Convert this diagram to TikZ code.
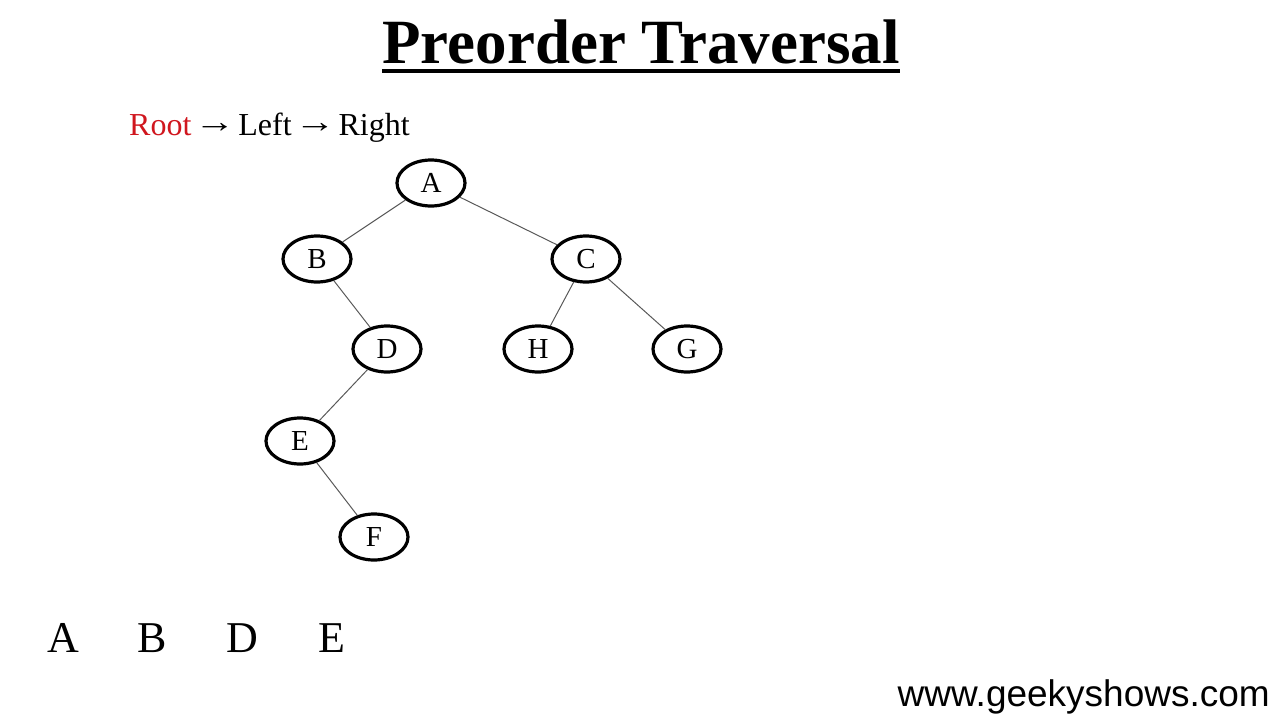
\documentclass[tikz,border=0pt]{standalone}
\usepackage{fontspec}
\setmainfont{Liberation Serif}
\newfontfamily\sitefont{Liberation Sans}
\usetikzlibrary{shapes.geometric}
\usepackage{xcolor}
\definecolor{rootred}{HTML}{D0161E}
\newcommand{\longarr}{\hspace{3pt}\raisebox{2.5pt}{\scalebox{1.28}[1]{→}}\hspace{3pt}}
\tikzset{
  treenode/.style={draw=black, line width=3.2pt, ellipse, minimum width=68pt, minimum height=46pt, inner sep=0pt, font=\fontsize{29}{29}\selectfont},
  treeedge/.style={draw=black!65, line width=1pt},
  seqletter/.style={anchor=base, font=\fontsize{44}{44}\selectfont}
}

\begin{document}
\begin{tikzpicture}[x=1pt, y=-1pt]
  \useasboundingbox (0,0) rectangle (1280,720);
  % title
  \node[anchor=base, inner sep=0pt, font=\fontsize{63}{63}\bfseries\selectfont] (title) at (641,63) {Preorder Traversal};
  \draw[line width=4pt] ([yshift=-7pt]title.south west) -- ([yshift=-7pt]title.south east);
  \node[anchor=base west, inner sep=0pt, font=\fontsize{32}{32}\selectfont] (order) at (129,135) {\textcolor{rootred}{Root}\longarr Left\longarr Right};
  % tree
  \node[treenode] (a) at (431,183) {A};
  \node[treenode] (b) at (317,259) {B};
  \node[treenode] (c) at (586,259) {C};
  \node[treenode] (d) at (387,349) {D};
  \node[treenode] (h) at (538,349) {H};
  \node[treenode] (g) at (687,349) {G};
  \node[treenode] (e) at (300,441) {E};
  \node[treenode] (f) at (374,537) {F};
  \draw[treeedge] (a) -- (b);
  \draw[treeedge] (a) -- (c);
  \draw[treeedge] (b) -- (d);
  \draw[treeedge] (c) -- (h);
  \draw[treeedge] (c) -- (g);
  \draw[treeedge] (d) -- (e);
  \draw[treeedge] (e) -- (f);
  % visited so far
  \node[seqletter] (s1) at (63,652) {A};
  \node[seqletter] (s2) at (152,652) {B};
  \node[seqletter] (s3) at (242,652) {D};
  \node[seqletter] (s4) at (332,652) {E};
  \node[anchor=base east, inner sep=0pt, font=\sitefont\fontsize{37}{37}\selectfont] (site) at (1270,706) {www.geekyshows.com};
\end{tikzpicture}
\end{document}
